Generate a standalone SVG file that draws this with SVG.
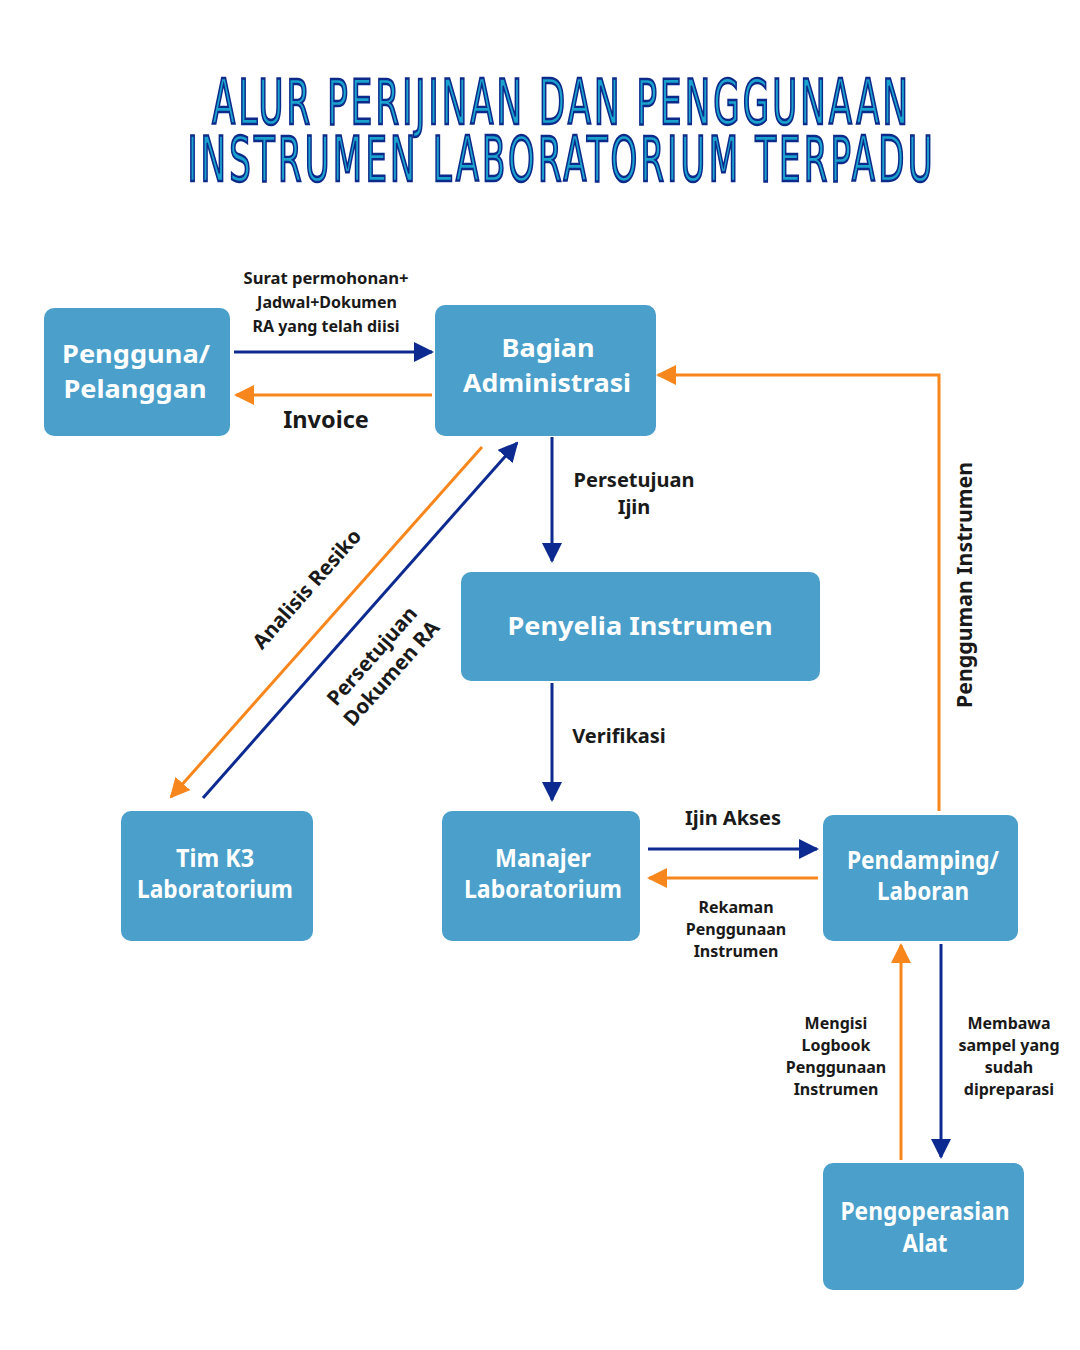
<svg xmlns="http://www.w3.org/2000/svg" width="1080" height="1350" viewBox="0 0 1080 1350">
<defs>
<style>
.title{font-family:"Liberation Sans Narrow","DejaVu Sans Condensed","Liberation Sans",sans-serif;font-weight:400;font-size:63px;fill:#1ba3d0;stroke:#0c2a8a;stroke-width:2.4;text-anchor:middle}
.box{fill:#4a9fcb}
.nt{font-family:"Noto Sans","Open Sans",sans-serif;font-weight:700;font-size:25px;fill:#ffffff;text-anchor:middle}
.lb{font-family:"Noto Sans","Open Sans",sans-serif;font-weight:700;fill:#1a1a1a;text-anchor:middle}
.s15{font-size:16px}
.s19{font-size:20px}
.s22{font-size:23.5px}
.blue{stroke:#0d2a91;stroke-width:3;fill:none}
.orange{stroke:#f7861d;stroke-width:3;fill:none}
</style>
<marker id="ab" viewBox="0 0 20 20" refX="18" refY="10" markerWidth="20" markerHeight="20" markerUnits="userSpaceOnUse" orient="auto"><path d="M0,0 L20,10 L0,20 Z" fill="#0d2a91"/></marker>
<marker id="ao" viewBox="0 0 20 20" refX="18" refY="10" markerWidth="20" markerHeight="20" markerUnits="userSpaceOnUse" orient="auto"><path d="M0,0 L20,10 L0,20 Z" fill="#f7861d"/></marker>
</defs>
<rect width="1080" height="1350" fill="#ffffff"/>
<g id="title" transform="translate(560,0) scale(0.6,1)">
<text class="title" x="0" y="124" textLength="1160" lengthAdjust="spacing">ALUR PERIJINAN DAN PENGGUNAAN</text>
<text class="title" x="0" y="181" textLength="1242" lengthAdjust="spacing">INSTRUMEN LABORATORIUM TERPADU</text>
</g>
<g id="connectors">
<line class="blue" x1="234" y1="352" x2="432" y2="352" marker-end="url(#ab)"/>
<line class="orange" x1="432" y1="395" x2="236" y2="395" marker-end="url(#ao)"/>
<line class="blue" x1="552" y1="437" x2="552" y2="561" marker-end="url(#ab)"/>
<line class="blue" x1="552" y1="683" x2="552" y2="800" marker-end="url(#ab)"/>
<line class="orange" x1="482" y1="447" x2="171" y2="797" marker-end="url(#ao)"/>
<line class="blue" x1="203" y1="798" x2="517" y2="443" marker-end="url(#ab)"/>
<line class="blue" x1="648" y1="849" x2="817" y2="849" marker-end="url(#ab)"/>
<line class="orange" x1="818" y1="878" x2="649" y2="878" marker-end="url(#ao)"/>
<line class="orange" x1="901" y1="1160" x2="901" y2="945" marker-end="url(#ao)"/>
<line class="blue" x1="941" y1="944" x2="941" y2="1157" marker-end="url(#ab)"/>
<polyline class="orange" points="939,811 939,375 658,375" marker-end="url(#ao)"/>
</g>
<g id="labels">
<text class="lb s15" x="326" y="284" textLength="165" lengthAdjust="spacingAndGlyphs">Surat permohonan+</text>
<text class="lb s15" x="327" y="308">Jadwal+Dokumen</text>
<text class="lb s15" x="326" y="332">RA yang telah diisi</text>
<text class="lb s22" x="326" y="428">Invoice</text>
<text class="lb s19" x="634" y="487">Persetujuan</text>
<text class="lb s19" x="634" y="514">Ijin</text>
<text class="lb s19" x="619" y="743">Verifikasi</text>
<text class="lb" font-size="20.5" transform="translate(307,589) rotate(-48.5)" x="0" y="7">Analisis Resiko</text>
<g transform="translate(381,664) rotate(-48.5)">
<text class="lb" font-size="20.5" x="0" y="-5">Persetujuan</text>
<text class="lb" font-size="20.5" x="0" y="21">Dokumen RA</text>
</g>
<text class="lb s19" x="733" y="825">Ijin Akses</text>
<text class="lb s15" x="736" y="913">Rekaman</text>
<text class="lb s15" x="736" y="935">Penggunaan</text>
<text class="lb s15" x="736" y="957">Instrumen</text>
<text class="lb s15" x="836" y="1029">Mengisi</text>
<text class="lb s15" x="836" y="1051">Logbook</text>
<text class="lb s15" x="836" y="1073">Penggunaan</text>
<text class="lb s15" x="836" y="1095">Instrumen</text>
<text class="lb s15" x="1009" y="1029">Membawa</text>
<text class="lb s15" x="1009" y="1051">sampel yang</text>
<text class="lb s15" x="1009" y="1073">sudah</text>
<text class="lb s15" x="1009" y="1095">dipreparasi</text>
<text class="lb" font-size="21" transform="translate(972,585) rotate(-90)" x="0" y="0" textLength="246" lengthAdjust="spacingAndGlyphs">Pengguman Instrumen</text>
</g>
<g id="pengguna"><rect class="box" x="44" y="308" width="186" height="128" rx="10"/><text class="nt" x="136" y="363" textLength="148" lengthAdjust="spacingAndGlyphs">Pengguna/</text><text class="nt" x="135" y="398" textLength="143" lengthAdjust="spacingAndGlyphs">Pelanggan</text></g>
<g id="bagian"><rect class="box" x="435" y="305" width="221" height="131" rx="10"/><text class="nt" x="548" y="357" textLength="93" lengthAdjust="spacingAndGlyphs">Bagian</text><text class="nt" x="547" y="392" textLength="168" lengthAdjust="spacingAndGlyphs">Administrasi</text></g>
<g id="penyelia"><rect class="box" x="461" y="572" width="359" height="109" rx="10"/><text class="nt" x="640" y="635" textLength="265" lengthAdjust="spacingAndGlyphs">Penyelia Instrumen</text></g>
<g id="timk3"><rect class="box" x="121" y="811" width="192" height="130" rx="10"/><text class="nt" x="215" y="867" textLength="78" lengthAdjust="spacingAndGlyphs">Tim K3</text><text class="nt" x="215" y="898" textLength="156" lengthAdjust="spacingAndGlyphs">Laboratorium</text></g>
<g id="manajer"><rect class="box" x="442" y="811" width="198" height="130" rx="10"/><text class="nt" x="543" y="867" textLength="96" lengthAdjust="spacingAndGlyphs">Manajer</text><text class="nt" x="543" y="898" textLength="158" lengthAdjust="spacingAndGlyphs">Laboratorium</text></g>
<g id="pendamping"><rect class="box" x="823" y="815" width="195" height="126" rx="10"/><text class="nt" x="923" y="869" textLength="152" lengthAdjust="spacingAndGlyphs">Pendamping/</text><text class="nt" x="923" y="900" textLength="92" lengthAdjust="spacingAndGlyphs">Laboran</text></g>
<g id="pengoperasian"><rect class="box" x="823" y="1163" width="201" height="127" rx="10"/><text class="nt" x="925" y="1220" textLength="169" lengthAdjust="spacingAndGlyphs">Pengoperasian</text><text class="nt" x="925" y="1252" textLength="45" lengthAdjust="spacingAndGlyphs">Alat</text></g>
</svg>
